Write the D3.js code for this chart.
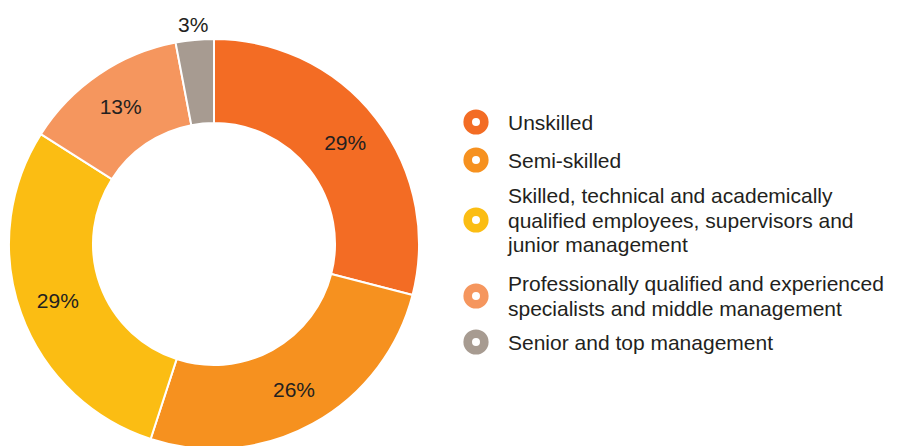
<!DOCTYPE html>
<html>
<head>
<meta charset="utf-8">
<script src="https://cdn.jsdelivr.net/npm/d3@7"></script>
<style>
  html, body { margin: 0; padding: 0; background: #fff; }
  svg { display: block; }
  text { font-family: "Liberation Sans", Arial, Helvetica, sans-serif; fill: #231f20; }
</style>
</head>
<body>
<svg id="chart" width="904" height="446"></svg>
<script>
// Workforce by occupational level (percent)
const categories = [
  "Unskilled",
  "Semi-skilled",
  "Skilled, technical and academically qualified employees, supervisors and junior management",
  "Professionally qualified and experienced specialists and middle management",
  "Senior and top management"
];
const legendLines = [
  ["Unskilled"],
  ["Semi-skilled"],
  ["Skilled, technical and academically", "qualified employees, supervisors and", "junior management"],
  ["Professionally qualified and experienced", "specialists and middle management"],
  ["Senior and top management"]
];
const values = [29, 26, 29, 13, 3];
const colors = ["#f36c24", "#f6911f", "#fbbd13", "#f5965e", "#a79b91"];

const svg = d3.select("#chart");
const cx = 214, cy = 244, outerR = 205, innerR = 121;

const data = categories.map((c, i) => ({ name: c, value: values[i], color: colors[i] }));

const pie = d3.pie().value(d => d.value).sort(null);
const arcs = pie(data);
const arc = d3.arc().innerRadius(innerR).outerRadius(outerR);

const g = svg.append("g").attr("transform", `translate(${cx},${cy})`);

g.selectAll("path.slice")
  .data(arcs)
  .enter().append("path")
  .attr("class", "slice")
  .attr("d", arc)
  .attr("fill", d => d.data.color)
  .attr("stroke", "#fff")
  .attr("stroke-width", 2);

// value labels: inside the ring, small slices pushed outside
const labelArcIn = d3.arc().innerRadius(166).outerRadius(166);
const labelArcOut = d3.arc().innerRadius(221).outerRadius(221);
g.selectAll("text.val")
  .data(arcs)
  .enter().append("text")
  .attr("class", "val")
  .attr("transform", d => {
    const p = (d.data.value < 5 ? labelArcOut : labelArcIn).centroid(d);
    return `translate(${p[0]},${p[1]})`;
  })
  .attr("text-anchor", "middle")
  .attr("dy", "0.36em")
  .style("font-size", "21px")
  .text(d => d.data.value + "%");

// legend
const legendY = [122, 160, 220, 296, 342];
const lineH = 24.3;
const lg = svg.append("g");
data.forEach((d, i) => {
  const item = lg.append("g").attr("transform", `translate(476,${legendY[i]})`);
  item.append("circle").attr("r", 8.3).attr("fill", "none")
    .attr("stroke", d.color).attr("stroke-width", 8.6);
  const lines = legendLines[i];
  const t = item.append("text")
    .attr("x", 32)
    .attr("y", -(lines.length - 1) * lineH / 2)
    .style("font-size", "21px");
  lines.forEach((ln, j) => {
    t.append("tspan").attr("x", 32).attr("dy", j === 0 ? "0.36em" : lineH).text(ln);
  });
});
</script>
</body>
</html>
